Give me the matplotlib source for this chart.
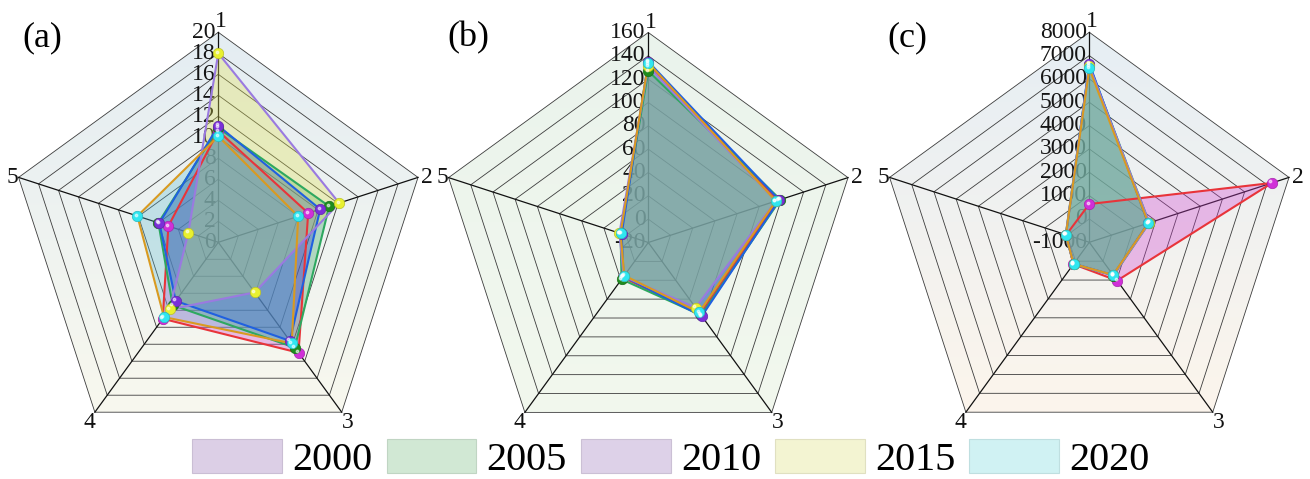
import numpy as np
import matplotlib.pyplot as plt
from matplotlib.patches import Polygon, Patch
from matplotlib.colors import to_rgb
from matplotlib.transforms import offset_copy

plt.rcParams["font.family"] = ["Liberation Serif", "DejaVu Serif"]

years = ["2000", "2005", "2010", "2015", "2020"]
axis_names = ["1", "2", "3", "4", "5"]

# (a) values on axes 1..5
a_2000 = [10.6, 9.0, 13.0, 9.0, 5.0]
a_2005 = [10.9, 11.1, 12.4, 7.4, 6.0]
a_2010 = [11.1, 10.2, 11.6, 6.9, 5.9]
a_2015 = [18.0, 12.1, 5.9, 7.9, 3.0]
a_2020 = [10.1, 8.0, 11.9, 8.8, 8.1]
a_ticks = list(range(0, 21, 2))

# (b)
b_2000 = [133, 97, 56, 17, 5]
b_2005 = [127, 99, 57, 19, 5]
b_2010 = [135, 98, 58, 16, 4]
b_2015 = [131, 95, 49, 16, 6]
b_2020 = [134, 95, 54, 15, 5]
b_ticks = list(range(-20, 161, 20))

# (c)
c_2000 = [640, 7230, 1030, 160, 40]
c_2005 = [6600, 1700, 760, 150, 60]
c_2010 = [6650, 1650, 740, 140, 50]
c_2015 = [6550, 1700, 750, 150, 60]
c_2020 = [6450, 1660, 730, 145, 55]
c_ticks = list(range(-1000, 8001, 1000))

line_colors = ["#E8343A", "#2EA860", "#2060E0", "#9A7AE0", "#D99A20"]
marker_colors = ["#D030D8", "#1E8C1E", "#7A2FD8", "#E8F030", "#30E6F0"]
fill_colors = ["#D040D0", "#30A060", "#3050D0", "#E1E150", "#5AB9D2"]
fill_alpha = [0.33, 0.33, 0.38, 0.33, 0.30]
legend_colors = ["#DCCFE6", "#D1E8D4", "#DDD1E8", "#F3F4D2", "#D0F2F3"]

W, H = 1310, 479
R = 210.0
HALF = 240.0
angles = np.deg2rad(90 - 72 * np.arange(5))


def to_xy(vals, lo, hi):
    r = (np.asarray(vals, dtype=float) - lo) / (hi - lo)
    return r * np.cos(angles), r * np.sin(angles)


def closed(a):
    return np.append(a, a[0])


def radar(fig, cx, cy, series, ticks, bg_top, bg_bottom, letter, lx):
    ax = fig.add_axes([(cx - HALF) / W, (H - cy - HALF) / H, 2 * HALF / W, 2 * HALF / H])
    lim = HALF / R
    ax.set_xlim(-lim, lim)
    ax.set_ylim(-lim, lim)
    ax.set_axis_off()
    lo, hi = ticks[0], ticks[-1]
    n = len(ticks) - 1

    # gradient background clipped to the outer pentagon
    outer = Polygon(np.column_stack([np.cos(angles), np.sin(angles)]),
                    closed=True, facecolor="none", edgecolor="none")
    ax.add_patch(outer)
    t = np.linspace(0, 1, 256)[:, None]
    top, bot = np.array(to_rgb(bg_top)), np.array(to_rgb(bg_bottom))
    img = (1 - t)[:, :, None] * top + t[:, :, None] * bot
    img = np.repeat(img, 2, axis=1)
    bg = ax.imshow(img, extent=(-1, 1, np.sin(angles[2]), 1), origin="upper",
                   aspect="auto", zorder=0)
    bg.set_clip_path(outer)

    # rings and spokes
    for k in range(1, n + 1):
        r = k / n
        ax.plot(closed(r * np.cos(angles)), closed(r * np.sin(angles)),
                color="#3c3c3c", lw=0.6, zorder=1)
    for a in angles:
        ax.plot([0, np.cos(a)], [0, np.sin(a)], color="#111111", lw=0.9, zorder=1)

    for v in ticks:
        ax.text(-0.012, (v - lo) / (hi - lo), str(v), ha="right", va="center",
                fontsize=17, color="#151515", zorder=1.5)

    # axis names around the pentagon
    off = [(0.01, 0.05), (0.043, 0.0), (0.029, -0.05), (-0.024, -0.05), (-0.028, 0.0)]
    for name, a, (dx, dy) in zip(axis_names, angles, off):
        ax.text(np.cos(a) + dx, np.sin(a) + dy, name, ha="center", va="center",
                fontsize=17, color="#111111")

    for vals, fc, al in zip(series, fill_colors, fill_alpha):
        x, y = to_xy(vals, lo, hi)
        ax.fill(x, y, color=fc, alpha=al, lw=0, zorder=2)
    for vals, lc in zip(series, line_colors):
        x, y = to_xy(vals, lo, hi)
        ax.plot(closed(x), closed(y), color=lc, lw=1.5, zorder=3)
    shine = offset_copy(ax.transData, fig=fig, x=-1.5, y=1.5, units="dots")
    for vals, mc in zip(series, marker_colors):
        x, y = to_xy(vals, lo, hi)
        ax.plot(x, y, "o", ms=7.5, mfc=mc, mec=tuple(np.array(to_rgb(mc)) * 0.8),
                mew=0.5, zorder=4)
        ax.plot(x, y, "o", ms=1.8, color="white", alpha=0.55, transform=shine, zorder=5)

    fig.text(lx / W, 1 - 38 / H, letter, fontsize=26, ha="center", va="center")
    return ax


fig = plt.figure(figsize=(W / 100, H / 100), dpi=100)
fig.patch.set_facecolor("white")

radar(fig, 218.3, 242.3, [a_2000, a_2005, a_2010, a_2015, a_2020], a_ticks,
      "#E4EDF3", "#F8F8EE", "(a)", 42)
radar(fig, 648.3, 242.5, [b_2000, b_2005, b_2010, b_2015, b_2020], b_ticks,
      "#EAF3EC", "#F2F8EE", "(b)", 468)
radar(fig, 1089.3, 242.3, [c_2000, c_2005, c_2010, c_2015, c_2020], c_ticks,
      "#E6EEF4", "#FCF5EC", "(c)", 907)

handles = [Patch(facecolor=c, edgecolor=tuple(np.array(to_rgb(c)) * 0.92), lw=0.8)
           for c in legend_colors]
fig.legend(handles, years, loc="center", bbox_to_anchor=(671 / W, 20 / H), ncol=5,
           frameon=False, fontsize=29, handlelength=2.23, handleheight=0.94,
           handletextpad=0.25, columnspacing=0.35, borderpad=0, borderaxespad=0)

fig.savefig("out.png", dpi=100)
